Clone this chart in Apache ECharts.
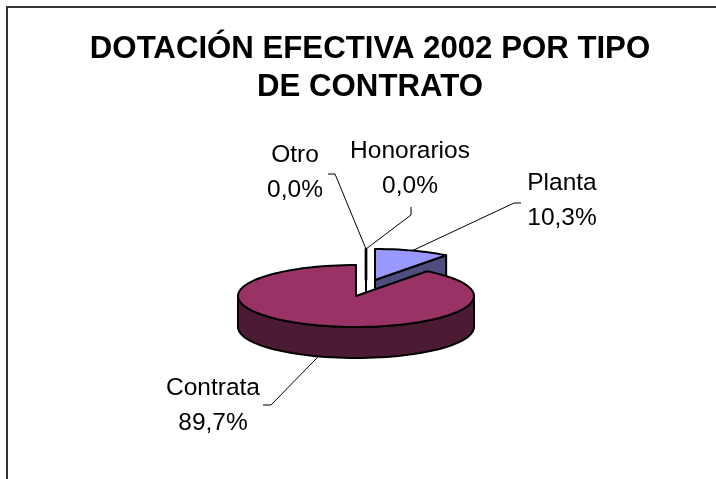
<!DOCTYPE html>
<html><head><meta charset="utf-8">
<style>html,body{margin:0;padding:0;background:#fff}#c{width:716px;height:479px}</style>
<script src="https://cdn.jsdelivr.net/npm/echarts@6/dist/echarts.min.js"></script>
</head><body><div id="c"></div>
<script>
const titleText = 'DOTACIÓN EFECTIVA 2002 POR TIPO\nDE CONTRATO';
const categories = ['Planta', 'Contrata', 'Honorarios', 'Otro'];
const values = [10.3, 89.7, 0, 0];

// Layout of the tilted pie (not data)
const RX = 118, RY = 31, DEPTH = 31, CX = 356, CY = 296;
const ZERO_OFFSET = [10, -16];
const explode = { Planta: [19, -16], Contrata: [0, 0], Honorarios: ZERO_OFFSET, Otro: ZERO_OFFSET };
const faces = { Planta: ['#9999FF', '#4D4D80'], Contrata: ['#993366', '#4D1A33'], Honorarios: ['#FFFFCC', '#808066'], Otro: ['#CCFFFF', '#668080'] };
const drawOrder = { Planta: 1, Honorarios: 2, Otro: 3, Contrata: 4 };
const labelPos = { Planta: [562, 201], Contrata: [213, 406], Honorarios: [410, 169], Otro: [295, 173] };
const leaderElbow = {
  Planta: [[514, 203], [521, 203]],
  Contrata: [[271, 405], [263, 405]],
  Honorarios: [[411, 215], [411, 207]],
  Otro: [[335, 174], [328, 174]]
};

const total = values.reduce((a, b) => a + b, 0);
const spans = [];
let acc = 0;
values.forEach(v => { const a0 = acc / total * 360; acc += v; spans.push([a0, acc / total * 360]); });
const pct = v => (v / total * 100).toFixed(1).replace('.', ',') + '%';

function rim(c, deg, dz) {
  const t = deg * Math.PI / 180;
  return [c[0] + RX * Math.sin(t), c[1] - RY * Math.cos(t) + (dz || 0)];
}
function arc(c, a0, a1, dz) {
  const pts = [], n = Math.max(1, Math.ceil(Math.abs(a1 - a0) / 3));
  for (let i = 0; i <= n; i++) pts.push(rim(c, a0 + (a1 - a0) * i / n, dz));
  return pts;
}
function poly(points, fill, z2, lw) {
  return { type: 'polygon', z2, shape: { points }, style: { fill, stroke: '#000', lineWidth: lw || 2, lineJoin: 'round' } };
}

function renderItem(params, api) {
  const i = api.value(0), name = categories[i];
  const [a0, a1] = spans[i], off = explode[name], z = drawOrder[name] * 10;
  const c = [CX + off[0], CY + off[1]];
  const [top, side] = faces[name];
  const kids = [];
  const sinEnd = Math.sin(a1 * Math.PI / 180);
  // radial wall at the end of the slice (or the edge-on wall of an empty slice)
  if (a1 - a0 === 0 || sinEnd > 1e-6) {
    const e = rim(c, a1);
    kids.push(poly([c, e, [e[0], e[1] + DEPTH], [c[0], c[1] + DEPTH]], side, z));
  }
  // outer rim wall, front half only
  const f0 = Math.max(a0, 90), f1 = Math.min(a1, 270);
  if (f1 > f0) {
    kids.push(poly(arc(c, f0, f1).concat(arc(c, f1, f0, DEPTH)), side, z));
  }
  // top face
  kids.push(poly(a1 > a0 ? [c].concat(arc(c, a0, a1)) : [c, rim(c, a1)], top, z + 1, a1 > a0 ? 2 : 2.4));

  // leader + label
  const mid = (a0 + a1) / 2, cosMid = Math.cos(mid * Math.PI / 180);
  const anchor = rim(c, mid, cosMid < 0 ? DEPTH : 0);
  kids.push({ type: 'polyline', z2: 60, shape: { points: [anchor].concat(leaderElbow[name]) },
    style: { fill: null, stroke: '#000', lineWidth: 1 } });
  const lp = labelPos[name];
  kids.push({ type: 'text', z2: 70, x: lp[0], y: lp[1], style: {
    text: name + '\n' + pct(values[i]), fill: '#000', align: 'center', verticalAlign: 'middle',
    font: '24.5px "Liberation Sans", Arial, sans-serif', lineHeight: 35 } });
  return { type: 'group', children: kids };
}

const chart = echarts.init(document.getElementById('c'), null, { renderer: 'canvas' });
chart.setOption({
  animation: false,
  backgroundColor: '#fff',
  title: {
    text: titleText, left: 365, top: 25, textAlign: 'center',
    textStyle: { fontFamily: '"Liberation Sans", Arial, sans-serif', fontWeight: 'bold', fontSize: 31.2, lineHeight: 38, color: '#000' }
  },
  graphic: [{ type: 'polyline', silent: true, shape: { points: [[7, 479], [7, 7], [716, 7]] },
    style: { fill: null, stroke: '#333', lineWidth: 2 } }],
  series: [{
    type: 'custom', coordinateSystem: 'none', silent: true,
    data: values.map((v, i) => [i, v]),
    renderItem
  }]
});
</script></body></html>
